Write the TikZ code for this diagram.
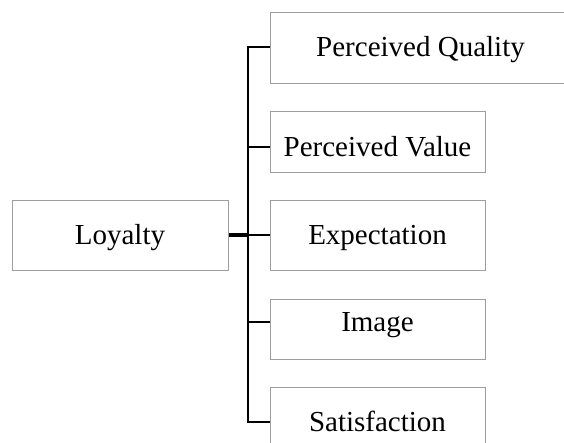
\documentclass[tikz,border=0pt]{standalone}
\usepackage{fontspec}
\setmainfont{Liberation Serif}
\begin{document}
\begin{tikzpicture}[x=1pt,y=-1pt,
  box/.style={draw=black!38,line width=1pt,fill=none,inner sep=0pt,anchor=north west},
  lbl/.style={inner sep=0pt,text height=19.2pt,text depth=0pt,font=\fontsize{29}{34}\selectfont},
  wire/.style={line width=2.2pt,black},
  stub/.style={line width=3.4pt,black}]
\useasboundingbox (0,0) rectangle (564,443);
% boxes
\node[box,minimum width=301pt,minimum height=71pt] (pq) at (270,12) {};
\node[box,minimum width=215pt,minimum height=61pt] (pv) at (270,111) {};
\node[box,minimum width=215pt,minimum height=70pt] (ex) at (270,200) {};
\node[box,minimum width=215pt,minimum height=60pt] (im) at (270,299) {};
\node[box,minimum width=215pt,minimum height=70pt] (sa) at (270,387) {};
\node[box,minimum width=216pt,minimum height=70pt] (lo) at (12,200) {};
% labels
\node[lbl] (pqt) at (420.5,47) {Perceived Quality};
\node[lbl] (pvt) at (377.5,147) {Perceived Value};
\node[lbl] (ext) at (377.5,235) {Expectation};
\node[lbl] (imt) at (377.5,322) {Image};
\node[lbl] (sat) at (377.5,422) {Satisfaction};
\node[lbl] (lot) at (120,235) {Loyalty};
% connectors
\coordinate (bus) at (248,0);
\draw[wire] (pq.west |- pqt) -- (bus |- pqt) -- (bus |- sat) -- (sa.west |- sat);
\draw[wire] (bus |- pvt) -- (pv.west |- pvt);
\draw[wire] (bus |- ext) -- (ex.west |- ext);
\draw[wire] (bus |- imt) -- (im.west |- imt);
\draw[stub] (lo.east |- lot) -- (bus |- lot);
\end{tikzpicture}
\end{document}
